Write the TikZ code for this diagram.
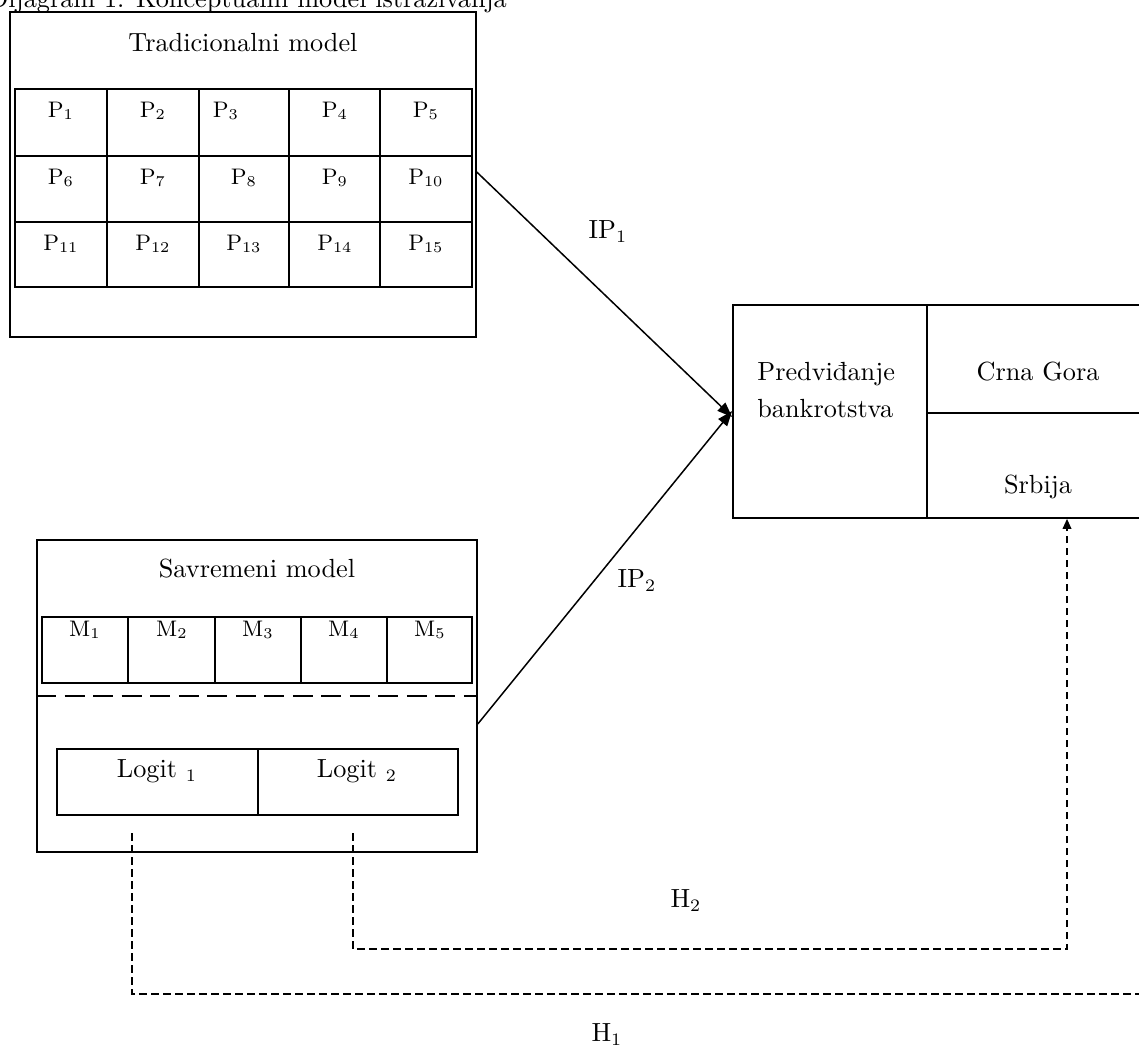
\documentclass[tikz,border=0pt]{standalone}
\usepackage{fontspec}
\usetikzlibrary{arrows.meta}

\begin{document}
\begin{tikzpicture}[x=0.4pt,y=0.4pt,yscale=-1,
    every node/.style={font=\fontsize{10.5}{12.6}\selectfont},
    box/.style={draw,line width=0.6pt,inner sep=0pt},
    cellfont/.style={font=\fontsize{9}{10.8}\selectfont},
    hyp/.style={line width=0.5pt,dash pattern=on 3pt off 1.8pt},
    ip/.style={line width=0.6pt,-{Triangle[length=6pt,width=4.5pt]}}]
      %set diagram size
      \useasboundingbox (0,0) rectangle (1139,1049);

      % Text Node
      \draw (-14,7) node [anchor=base west][inner sep=0.75pt] (caption) {Dijagram 1. Konceptualni model istraživanja};

      %Shape: Rectangle
      \draw (243,174.5) node [box,minimum width=186.4pt,minimum height=130pt] (trad) {};
      % Text Node
      \draw (243,51) node [anchor=base][inner sep=0.75pt] (tradtitle) {Tradicionalni model};
      %Straight Lines
      \draw [line width=0.5pt] (15,89) rectangle (472,287);
      \draw [line width=0.5pt] (15,156) -- (472,156) ;
      \draw [line width=0.5pt] (15,222) -- (472,222) ;
      \draw [line width=0.5pt] (107,89) -- (107,287) ;
      \draw [line width=0.5pt] (199,89) -- (199,287) ;
      \draw [line width=0.5pt] (289,89) -- (289,287) ;
      \draw [line width=0.5pt] (380,89) -- (380,287) ;
      % Text Node
      \draw (61,117) node [anchor=base][inner sep=0.75pt][cellfont] (p1) {P$_1$};
      \draw (153,117) node [anchor=base][inner sep=0.75pt][cellfont] (p2) {P$_2$};
      \draw (226,117) node [anchor=base][inner sep=0.75pt][cellfont] (p3) {P$_3$};
      \draw (335,117) node [anchor=base][inner sep=0.75pt][cellfont] (p4) {P$_4$};
      \draw (426,117) node [anchor=base][inner sep=0.75pt][cellfont] (p5) {P$_5$};
      % Text Node
      \draw (61,184) node [anchor=base][inner sep=0.75pt][cellfont] (p6) {P$_6$};
      \draw (153,184) node [anchor=base][inner sep=0.75pt][cellfont] (p7) {P$_7$};
      \draw (244,184) node [anchor=base][inner sep=0.75pt][cellfont] (p8) {P$_8$};
      \draw (335,184) node [anchor=base][inner sep=0.75pt][cellfont] (p9) {P$_9$};
      \draw (426,184) node [anchor=base][inner sep=0.75pt][cellfont] (p10) {P$_{10}$};
      % Text Node
      \draw (61,250) node [anchor=base][inner sep=0.75pt][cellfont] (p11) {P$_{11}$};
      \draw (153,250) node [anchor=base][inner sep=0.75pt][cellfont] (p12) {P$_{12}$};
      \draw (244,250) node [anchor=base][inner sep=0.75pt][cellfont] (p13) {P$_{13}$};
      \draw (335,250) node [anchor=base][inner sep=0.75pt][cellfont] (p14) {P$_{14}$};
      \draw (426,250) node [anchor=base][inner sep=0.75pt][cellfont] (p15) {P$_{15}$};

      %Shape: Rectangle
      \draw (257,696) node [box,minimum width=176pt,minimum height=124.8pt] (sav) {};
      % Text Node
      \draw (257,577) node [anchor=base][inner sep=0.75pt] (savtitle) {Savremeni model};
      %Straight Lines
      \draw [line width=0.5pt] (42,617) rectangle (472,683);
      \draw [line width=0.5pt] (128,617) -- (128,683) ;
      \draw [line width=0.5pt] (215,617) -- (215,683) ;
      \draw [line width=0.5pt] (301,617) -- (301,683) ;
      \draw [line width=0.5pt] (387,617) -- (387,683) ;
      % Text Node
      \draw (85,636) node [anchor=base][inner sep=0.75pt][cellfont] (m1) {M$_1$};
      \draw (172,636) node [anchor=base][inner sep=0.75pt][cellfont] (m2) {M$_2$};
      \draw (258,636) node [anchor=base][inner sep=0.75pt][cellfont] (m3) {M$_3$};
      \draw (344,636) node [anchor=base][inner sep=0.75pt][cellfont] (m4) {M$_4$};
      \draw (430,636) node [anchor=base][inner sep=0.75pt][cellfont] (m5) {M$_5$};
      %Straight Lines
      \draw [line width=1pt,dash pattern=on 8pt off 3.4pt] (sav.west |- 0,696) -- (sav.east |- 0,696) ;
      %Shape: Rectangle
      \draw (157.5,782) node [box,line width=0.5pt,minimum width=80.4pt,minimum height=26.4pt] (logit1) {};
      \draw (358,782) node [box,line width=0.5pt,minimum width=80pt,minimum height=26.4pt] (logit2) {};
      % Text Node
      \draw (157,777) node [anchor=base][inner sep=0.75pt] (logittxt1) {Logit $_1$};
      \draw (357,777) node [anchor=base][inner sep=0.75pt] (logittxt2) {Logit $_2$};

      %Shape: Rectangle
      \draw (951.5,411.5) node [box,line width=0.7pt,minimum width=174.8pt,minimum height=85.2pt] (pred) {};
      %Straight Lines
      \draw [line width=0.6pt] (927,305) -- (927,518) ;
      \draw [line width=0.6pt] (927,413) -- (1170,413) ;
      % Text Node
      \draw (755,380) node [anchor=base west][inner sep=0.75pt] (predtxt1) {Predviđanje};
      \draw (755,417) node [anchor=base west][inner sep=0.75pt] (predtxt2) {bankrotstva};
      \draw (1038,380) node [anchor=base][inner sep=0.75pt] (mne) {Crna Gora};
      \draw (1038,493) node [anchor=base][inner sep=0.75pt] (srb) {Srbija};

      %Straight Lines
      \draw [ip] ([yshift=-1pt]trad.east) -- ([yshift=2.2pt]pred.west) ;
      \draw [ip] ([yshift=11.2pt]sav.east) -- ([yshift=-0.2pt]pred.west) ;
      % Text Node
      \draw (608,238) node [anchor=base][inner sep=0.75pt] (ip1) {IP$_1$};
      \draw (637,587) node [anchor=base][inner sep=0.75pt] (ip2) {IP$_2$};

      %Straight Lines
      \coordinate (h1a) at (132,833);
      \coordinate (h1b) at (1170,994);
      \coordinate (h2a) at (353,833);
      \coordinate (h2b) at (1067,949);
      \draw [hyp] (h1a) |- (h1b) ;
      \draw [hyp,-{Triangle[length=4pt,width=3.5pt]}] (h2a) |- (h2b) -- (h2b |- pred.south) ;
      % Text Node
      \draw (686,907) node [anchor=base][inner sep=0.75pt] (h2) {H$_2$};
      \draw (607,1041) node [anchor=base][inner sep=0.75pt] (h1) {H$_1$};

    \end{tikzpicture}
\end{document}
